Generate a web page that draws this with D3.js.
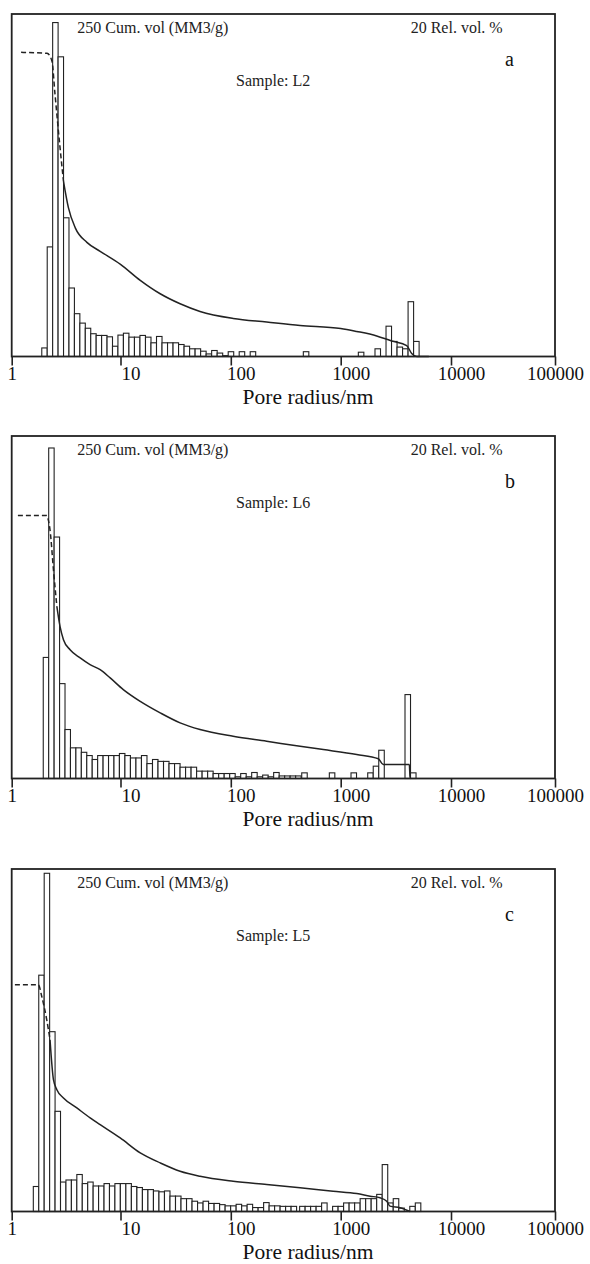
<!DOCTYPE html>
<html>
<head>
<meta charset="utf-8">
<script src="https://cdn.jsdelivr.net/npm/d3@7"></script>
<style>
  html, body { margin: 0; padding: 0; background: #fff; }
  svg { display: block; font-family: "Liberation Serif", "Times New Roman", serif; }
</style>
</head>
<body>
<svg id="chart" width="590" height="1264"></svg>
<script>
// ---- axis definitions ----
const xTicks = [1, 10, 100, 1000, 10000, 100000];
const cumMax = 250;          // cumulative volume, MM3/g, at the top of the frame
const relMax = 20;           // relative volume, %, at the top of the frame
const binsPerDecade = 20;    // histogram classes per decade of pore radius

// ---- sample L2 ----
// histogram runs: first class lower radius (nm) and relative volume (%) per class
const barsL2 = [
  { start: 1.89, values: [0.5, 6.4, 19.5, 17.5, 8.1, 4.0, 2.5, 1.95, 1.65, 1.33, 1.23, 1.23, 1.15, 0.6,
                          1.25, 1.36, 1.13, 1.13, 1.23, 1.13, 0.8, 1.17, 0.8, 0.8, 0.8, 0.7, 0.6, 0.45,
                          0.45, 0.31, 0.15, 0.35, 0.2, 0.05, 0.28, 0, 0.28, 0, 0.28] },
  { start: 457, values: [0.28] },
  { start: 1445, values: [0.25] },
  { start: 2046, values: [0.45, 0, 1.77, 0.88, 0.55, 0.45, 3.2, 0.88] }
];
// cumulative curve: [pore radius nm, cumulative volume]
const cumL2 = [[1.22, 222], [2.11, 221.3], [2.34, 215.9], [2.5, 191.5], [2.78, 152.6], [2.99, 128.1],
  [3.32, 108.7], [3.83, 94.1], [4.91, 83.3], [6.5, 76.8], [10, 67.3], [15.1, 55.6], [22.9, 45.8],
  [34.7, 38.5], [52.6, 32.9], [105, 27.8], [212, 25.2], [427, 22.7], [1000, 20.5], [1397, 18.3],
  [2120, 15], [2900, 11.3], [3966, 8], [4400, 2.2], [4890, 0], [6300, 0]];

// ---- sample L6 ----
const barsL6 = [
  { start: 1.95, values: [7.07, 19.3, 14.1, 5.54, 2.86, 1.79, 1.79, 1.53, 1.34, 1.11, 1.34, 1.34, 1.34,
                          1.34, 1.46, 1.34, 1.2, 1.2, 1.34, 0.87, 1.11, 1.0, 1.0, 0.87, 0.87, 0.66, 0.66,
                          0.66, 0.43, 0.43, 0.43, 0.29, 0.29, 0.29, 0.29, 0.1, 0.29, 0.1, 0.35, 0.1, 0.2,
                          0.1, 0.35, 0.15, 0.15, 0.15, 0.15] },
  { start: 442, values: [0.33] },
  { start: 788, values: [0.33] },
  { start: 1240, values: [0.33] },
  { start: 1758, values: [0.33, 0.72, 1.65] },
  { start: 3828, values: [4.9, 0.33] }
];
const cumL6 = [[1.14, 191.9], [2.1, 191.9], [2.17, 188.8], [2.25, 181.5], [2.42, 152.3], [2.6, 125.6],
  [2.78, 111], [2.99, 101.3], [3.44, 94], [4.26, 88], [5.25, 83.1], [6.5, 79.4], [8.04, 73.4],
  [10.6, 64.9], [15.1, 56.3], [22.9, 47.9], [34.7, 40.6], [52.6, 35.7], [105, 30.8], [212, 27.2],
  [427, 23.5], [695, 21.1], [1397, 17.5], [2193, 14.4], [2432, 10.2], [4190, 10.2], [4250, 1.5], [4300, 0]];

// ---- sample L5 ----
const barsL5 = [
  { start: 1.58, values: [1.46, 13.8, 19.75, 10.5, 5.85, 1.72, 1.84, 1.84, 2.16, 1.63, 1.72, 1.49, 1.49,
                          1.63, 1.49, 1.63, 1.63, 1.63, 1.46, 1.4, 1.28, 1.28, 1.2, 1.15, 1.2, 0.9, 0.9,
                          0.75, 0.75, 0.6, 0.5, 0.6, 0.47, 0.47, 0.4, 0.33, 0.33, 0.42, 0.33, 0.42, 0.23,
                          0.23, 0.52, 0.33, 0.33, 0.3, 0.3, 0.3] },
  { start: 423, values: [0.3, 0.3, 0.3, 0.3, 0.5, 0, 0.3, 0.3, 0.5, 0.5, 0.5, 0.75, 0.75, 0.75, 1.0,
                         2.74, 0.5, 0.75, 0.2, 0, 0.3, 0.5] }
];
const cumL5 = [[1.07, 165.5], [1.76, 165.5], [1.89, 156.9], [2.1, 139.9], [2.25, 125.4],
  [2.42, 96.2], [2.6, 88.9], [2.99, 82.9], [3.97, 75.6], [5.26, 68.3], [6.5, 63.4], [9.94, 53.7],
  [15.1, 42.8], [22.9, 35.5], [34.7, 29.4], [52.6, 25.7], [105, 22.1], [212, 19.7], [427, 17.3],
  [853, 14.8], [1397, 13.1], [1846, 11.2], [2274, 10], [2614, 7.5], [2800, 3.9], [3450, 2.7], [4250, 0]];

const panels = [
  { letter: "a", sample: "L2", bars: barsL2, cum: cumL2, dashUntil: 2.99, top: 14 },
  { letter: "b", sample: "L6", bars: barsL6, cum: cumL6, dashUntil: 2.6, top: 436 },
  { letter: "c", sample: "L5", bars: barsL5, cum: cumL5, dashUntil: 2.25, top: 869 }
];

// ---- drawing ----
const svg = d3.select("#chart");
const H = 342.5;
const ink = "#222";

// logarithmic radius axis, one segment per decade
const x = d3.scaleLog().domain(xTicks).range([11.7, 120.5, 230.8, 340.7, 451, 555]);
const yRel = d3.scaleLinear().domain([0, relMax]).range([H, 0]);
const yCum = d3.scaleLinear().domain([0, cumMax]).range([H, 0]);
const step = Math.pow(10, 1 / binsPerDecade);

panels.forEach(p => {
  const g = svg.append("g").attr("transform", `translate(0,${p.top})`);

  // histogram classes
  const classes = [];
  p.bars.forEach(run => run.values.forEach((v, i) => {
    const lo = run.start * Math.pow(step, i);
    classes.push({ lo, hi: lo * step, v });
  }));
  g.append("g").selectAll("rect").data(classes.filter(c => c.v > 0)).join("rect")
    .attr("x", c => x(c.lo))
    .attr("width", c => x(c.hi) - x(c.lo))
    .attr("y", c => yRel(c.v))
    .attr("height", c => H - yRel(c.v))
    .attr("fill", "#fff")
    .attr("stroke", ink)
    .attr("stroke-width", 1.1);

  // cumulative curve: dashed below the first measured point, solid after
  const line = d3.line().x(d => x(d[0])).y(d => yCum(d[1])).curve(d3.curveMonotoneX);
  g.append("path")
    .attr("d", line(p.cum.filter(d => d[0] <= p.dashUntil)))
    .attr("fill", "none").attr("stroke", ink).attr("stroke-width", 1.5)
    .attr("stroke-dasharray", "5,3");
  g.append("path")
    .attr("d", line(p.cum.filter(d => d[0] >= p.dashUntil)))
    .attr("fill", "none").attr("stroke", ink).attr("stroke-width", 1.5);

  // frame
  g.append("rect")
    .attr("x", x(1)).attr("y", 0)
    .attr("width", x(100000) - x(1)).attr("height", H)
    .attr("fill", "none").attr("stroke", ink).attr("stroke-width", 1.8);

  // radius axis
  const ax = g.append("g").attr("transform", `translate(0,${H})`)
    .call(d3.axisBottom(x).tickValues(xTicks).tickSize(9).tickPadding(1.5).tickFormat(d3.format("d")));
  ax.select(".domain").remove();
  ax.selectAll("line").attr("stroke", ink).attr("stroke-width", 1.6);
  ax.selectAll("text")
    .attr("font-size", 19)
    .attr("font-family", "Liberation Serif, serif")
    .attr("fill", "#111")
    .attr("dx", (d, i, n) => (i === 0 || i === n.length - 1) ? 0 : 10);

  g.append("text")
    .attr("x", 308).attr("y", H + 47.5)
    .attr("text-anchor", "middle")
    .attr("font-size", 21.5)
    .attr("fill", "#111")
    .text("Pore radius/nm");

  // in-frame annotations
  g.append("text").attr("x", 77.3).attr("y", 19).attr("font-size", 16).attr("fill", ink)
    .text("250 Cum. vol (MM3/g)");
  g.append("text").attr("x", 410.7).attr("y", 19).attr("font-size", 16).attr("fill", ink)
    .text("20 Rel. vol. %");
  g.append("text").attr("x", 505).attr("y", 51.5).attr("font-size", 20).attr("fill", "#111")
    .text(p.letter);
  g.append("text").attr("x", 236).attr("y", 72).attr("font-size", 16).attr("fill", ink)
    .text("Sample: " + p.sample);
});
</script>
</body>
</html>
